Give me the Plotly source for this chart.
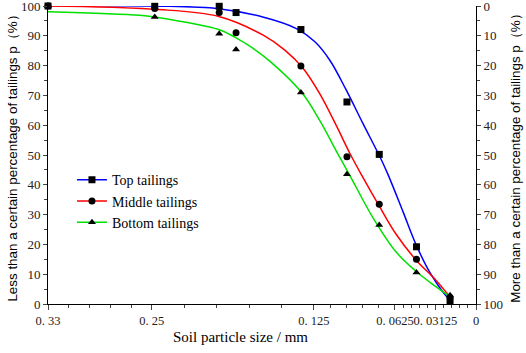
import plotly.graph_objects as go

# ---- data ----
sizes = [0.33, 0.2477, 0.198, 0.185, 0.135, 0.0995, 0.0746, 0.0459, 0.020]
top_pts = [100, 99.9, 99.9, 97.8, 92.1, 67.8, 50.2, 19.2, 0.9]
mid_pts = [100, 99.2, 97.8, 91.0, 79.9, 49.4, 33.5, 15.0, 2.2]
bot_pts = [100, 96.3, 90.7, 85.4, 71.0, 43.5, 26.5, 10.6, 2.9]

top_cx = [0.33, 0.2477, 0.1983, 0.1644, 0.1389, 0.1242, 0.1127, 0.1003, 0.0872, 0.0741, 0.0679, 0.0563, 0.0463, 0.0355, 0.0255, 0.0201]
top_cy = [100.2, 100.0, 99.1, 96.3, 92.5, 88.0, 81.8, 72.0, 60.6, 49.4, 43.5, 31.0, 20.0, 10.5, 4.0, 1.3]
mid_cx = [0.33, 0.2477, 0.1983, 0.1644, 0.1474, 0.1335, 0.1204, 0.1073, 0.0972, 0.0872, 0.0741, 0.0617, 0.0463, 0.0309, 0.0201]
mid_cy = [100.0, 98.9, 96.5, 90.3, 85.2, 79.2, 70.5, 59.5, 50.5, 42.5, 32.5, 23.5, 14.8, 8.0, 2.4]
bot_cx = [0.33, 0.2593, 0.2477, 0.1983, 0.185, 0.1744, 0.1590, 0.1335, 0.1204, 0.1073, 0.0965, 0.0795, 0.0617, 0.0463, 0.0309, 0.0201]
bot_cy = [98.1, 96.9, 96.3, 92.1, 89.3, 86.5, 81.5, 70.5, 61.5, 51.0, 42.5, 29.0, 17.5, 11.0, 5.8, 2.4]

x_tickvals = [0.33, 0.25, 0.125, 0.0625, 0.03125, 0]
x_ticktext = ["0. 33", "0. 25", "0. 125", "0. 0625", "0. 03125", "0"]
x_minor = [0.314, 0.298, 0.282, 0.266, 0.225, 0.2, 0.175, 0.15,
           0.1125, 0.1, 0.0875, 0.075, 0.05625, 0.05, 0.04375, 0.0375,
           0.025, 0.01875, 0.0125, 0.00625]

names = ["Top tailings", "Middle tailings", "Bottom tailings"]
colors = ["#0000ff", "#ff0000", "#00e000"]
symbols = ["square", "circle", "triangle-up"]

SERIF = "Liberation Serif, Times New Roman, DejaVu Serif, serif"
SANS = "Liberation Sans, Arial, sans-serif"

fig = go.Figure()
curves = [(top_cx, top_cy), (mid_cx, mid_cy), (bot_cx, bot_cy)]
points = [top_pts, mid_pts, bot_pts]
for i in range(3):
    cx, cy = curves[i]
    fig.add_trace(go.Scatter(x=cx, y=cy, mode="lines",
                             line=dict(color=colors[i], width=1.5, shape="spline", smoothing=1.0),
                             showlegend=False, hoverinfo="skip"))
for i in range(3):
    fig.add_trace(go.Scatter(x=sizes, y=points[i], mode="markers",
                             marker=dict(symbol=symbols[i], color="black", size=7),
                             showlegend=False, cliponaxis=False))
for i in range(3):
    fig.add_trace(go.Scatter(x=[None], y=[None], mode="lines+markers", name=names[i],
                             line=dict(color=colors[i], width=1.5),
                             marker=dict(symbol=symbols[i], color="black", size=7)))
fig.add_trace(go.Scatter(x=[0.33], y=[0], yaxis="y2", mode="markers", marker=dict(opacity=0),
                         showlegend=False, hoverinfo="skip"))
fig.add_trace(go.Scatter(x=[0.33], y=[0], xaxis="x2", mode="markers", marker=dict(opacity=0),
                         showlegend=False, hoverinfo="skip"))

fig.update_layout(
    width=526, height=353,
    margin=dict(l=48, r=50, t=6, b=49, autoexpand=False),
    paper_bgcolor="white", plot_bgcolor="white",
    font=dict(family=SERIF, size=11, color="#222222"),
    xaxis=dict(range=[0.33, 0], tickmode="array", tickvals=x_tickvals, ticktext=x_ticktext,
               tickangle=0, ticks="outside", ticklen=5, tickwidth=1, showline=True, linecolor="black",
               linewidth=1, showgrid=False, zeroline=False, automargin=False, ticklabeloverflow="allow",
               tickfont=dict(family=SERIF, size=12.5)),
    xaxis2=dict(range=[0.33, 0], overlaying="x", side="bottom", tickmode="array", tickvals=x_minor,
                showticklabels=False, ticks="outside", ticklen=3, tickwidth=1, showline=False,
                showgrid=False, zeroline=False, automargin=False),
    yaxis=dict(range=[0, 100], dtick=10, ticks="outside", ticklen=4, tickwidth=1,
               minor=dict(dtick=5, ticks="outside", ticklen=3, tickwidth=1),
               showline=True, linecolor="black", linewidth=1, showgrid=False, zeroline=False, automargin=False,
               ticklabeloverflow="allow",
               tickfont=dict(family=SERIF, size=13),
               title=dict(text="Less than a certain percentage of tailings p（%）",
                          font=dict(family=SANS, size=13.4, color="black"), standoff=0)),
    yaxis2=dict(range=[100, 0], dtick=10, overlaying="y", side="right", ticks="outside", ticklen=4, tickwidth=1,
                minor=dict(dtick=5, ticks="outside", ticklen=3, tickwidth=1),
                showline=True, linecolor="black", linewidth=1, showgrid=False, zeroline=False, automargin=False,
                ticklabeloverflow="allow",
                tickfont=dict(family=SERIF, size=13),
                title=dict(text="More than a certain percentage of tailings p（%）",
                           font=dict(family=SANS, size=13.4, color="black"), standoff=8)),
    legend=dict(x=0.056, y=0.469, xanchor="left", yanchor="top", bgcolor="rgba(0,0,0,0)",
                font=dict(family=SERIF, size=14, color="black"), tracegroupgap=0),
    annotations=[dict(text="Soil particle size / mm", xref="paper", yref="paper", x=0.449, y=-0.112,
                      xanchor="center", yanchor="middle", showarrow=False,
                      font=dict(family=SERIF, size=15, color="black"))],
)

fig.write_html("out.html", post_script="document.body.style.margin='0';",
               config={"displayModeBar": False})
